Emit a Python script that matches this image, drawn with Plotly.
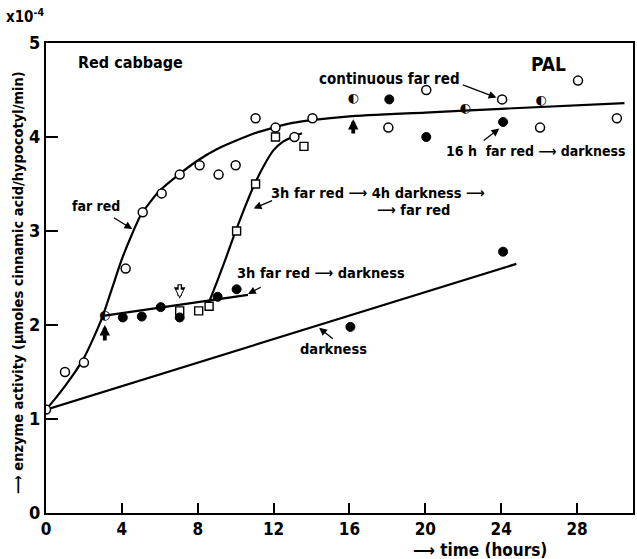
import plotly.graph_objects as go

# ---- data (time in hours, enzyme activity in units of 1e-4) ----
open_t = [0, 1, 2, 4.2, 5.1, 6.1, 7.05, 8.1, 9.1, 10, 11.05, 12.1, 13.1, 14.05, 18.05, 20.05, 24.05, 26.05, 28.05, 30.1]
open_v = [1.1, 1.5, 1.6, 2.6, 3.2, 3.4, 3.6, 3.7, 3.6, 3.7, 4.2, 4.1, 4.0, 4.2, 4.1, 4.5, 4.4, 4.1, 4.6, 4.2]

filled_t = [4.05, 5.05, 6.05, 7.05, 9.05, 10.05, 16.05, 24.1, 18.1, 20.05, 24.1]
filled_v = [2.08, 2.09, 2.19, 2.08, 2.3, 2.38, 1.98, 2.78, 4.4, 4.0, 4.16]

half_t = [3.1, 16.2, 22.1, 26.1]
half_v = [2.1, 4.41, 4.3, 4.39]

square_t = [7.05, 8.05, 8.6, 10.05, 11.05, 12.1, 13.6]
square_v = [2.15, 2.15, 2.2, 3.0, 3.5, 4.0, 3.9]

# curves
farred_t = [0, 0.5, 1, 1.5, 2, 2.5, 3, 3.5, 4, 4.5, 5, 5.5, 6, 7, 8, 9, 10, 11, 12, 13, 14, 16, 20, 24, 30.5]
farred_v = [1.1, 1.22, 1.35, 1.49, 1.65, 1.86, 2.1, 2.4, 2.7, 2.95, 3.17, 3.31, 3.43, 3.6, 3.75, 3.87, 3.96, 4.04, 4.1, 4.15, 4.18, 4.22, 4.26, 4.3, 4.36]

dark3h_t = [3.1, 10.65]
dark3h_v = [2.1, 2.32]

fr4h_t = [8.55, 9, 9.5, 10, 10.5, 11, 11.5, 12, 12.5, 13, 13.5]
fr4h_v = [2.22, 2.45, 2.72, 3.0, 3.26, 3.5, 3.7, 3.86, 3.95, 4.0, 4.04]

dark_t = [0, 24.8]
dark_v = [1.1, 2.65]

x_ticks = [0, 4, 8, 12, 16, 20, 24, 28]
y_ticks = [0, 1, 2, 3, 4, 5]

FONT = "DejaVu Sans Condensed"
LW = 2.2

fig = go.Figure()
for tt, vv in [(farred_t, farred_v), (dark3h_t, dark3h_v), (fr4h_t, fr4h_v), (dark_t, dark_v)]:
    fig.add_trace(go.Scatter(x=tt, y=vv, mode="lines", line=dict(color="black", width=LW, shape="spline", smoothing=0.6),
                             hoverinfo="skip", showlegend=False))

fig.add_trace(go.Scatter(x=square_t, y=square_v, mode="markers",
                         marker=dict(symbol="square", size=8, color="white", line=dict(color="black", width=1.4)),
                         showlegend=False))
fig.add_trace(go.Scatter(x=open_t, y=open_v, mode="markers",
                         marker=dict(symbol="circle", size=9, color="white", line=dict(color="black", width=1.5)),
                         showlegend=False))
fig.add_trace(go.Scatter(x=filled_t, y=filled_v, mode="markers",
                         marker=dict(symbol="circle", size=9, color="black", line=dict(color="black", width=1)),
                         showlegend=False))
fig.add_trace(go.Scatter(x=half_t, y=half_v, mode="text", text=["◐"] * len(half_t),
                         textposition="middle center", textfont=dict(family="DejaVu Sans", size=13, color="black"),
                         showlegend=False))

ann = []
def label(t, v, s, size=13.5, xanchor="center"):
    ann.append(dict(x=t, y=v, xref="x", yref="y", text=s, showarrow=False, xanchor=xanchor,
                    font=dict(family=FONT, size=size, color="black", weight="bold")))

def pointer(t0, v0, t1, v1, width=1.3, head=2, size=1.2, color="black"):
    ann.append(dict(x=t1, y=v1, ax=t0, ay=v0, xref="x", yref="y", axref="x", ayref="y", text="",
                    showarrow=True, arrowhead=head, arrowsize=size, arrowwidth=width, arrowcolor=color,
                    standoff=0, startstandoff=0))

label(1.6, 4.79, "Red cabbage", size=16, xanchor="left")
label(26.5, 4.78, "PAL", size=19)
label(18.1, 4.62, "continuous far red", size=15)
pointer(21.9, 4.56, 23.75, 4.42)
label(25.8, 3.85, "16 h  far red ⟶ darkness", size=14)
pointer(23.0, 3.95, 23.9, 4.09)
label(2.65, 3.27, "far red", size=14)
pointer(3.5, 3.15, 4.55, 3.02)
label(17.5, 3.40, "3h far red ⟶ 4h darkness ⟶", size=14.5)
label(19.4, 3.22, "⟶ far red", size=14.5)
pointer(12.0, 3.33, 10.95, 3.24)
label(14.5, 2.55, "3h far red ⟶ darkness", size=14.5)
pointer(11.4, 2.41, 10.65, 2.33)
label(15.15, 1.74, "darkness", size=14.5)
pointer(15.2, 1.84, 14.4, 1.97)

# induction arrows (filled) and far-red-off arrow (open: black arrow with white inner arrow)
pointer(3.1, 1.82, 3.1, 2.0, width=3.8, head=2, size=0.55)
pointer(16.2, 4.02, 16.2, 4.19, width=3.8, head=2, size=0.55)
pointer(7.05, 2.45, 7.05, 2.28, width=4.6, head=2, size=0.5)
pointer(7.05, 2.44, 7.05, 2.30, width=2.0, head=2, size=0.7, color="white")

# axis titles and multiplier
ann.append(dict(x=-0.049, y=0.49, xref="paper", yref="paper", xanchor="center", yanchor="middle",
                text="⟶ enzyme activity (μmoles cinnamic acid/hypocotyl/min)",
                textangle=-90, showarrow=False, font=dict(family=FONT, size=14.5, color="black", weight="bold")))
ann.append(dict(x=0.74, y=-0.079, xref="paper", yref="paper", xanchor="center", yanchor="middle",
                text="⟶ time (hours)", showarrow=False,
                font=dict(family=FONT, size=17, color="black", weight="bold")))
ann.append(dict(x=-0.072, y=1.057, xref="paper", yref="paper", text="x10<sup>-4</sup>", showarrow=False,
                xanchor="left", yanchor="middle",
                font=dict(family=FONT, size=15, color="black", weight="bold")))

fig.update_layout(
    width=637, height=559,
    margin=dict(l=46, r=2, t=43, b=46),
    plot_bgcolor="white", paper_bgcolor="white",
    annotations=ann,
    xaxis=dict(range=[0, 30.95], tickvals=x_ticks, ticks="inside", ticklen=10, tickwidth=1.5, tickcolor="black",
               showline=True, linecolor="black", linewidth=2, mirror=True, showgrid=False, zeroline=False,
               tickfont=dict(family=FONT, size=17, color="black", weight="bold")),
    yaxis=dict(range=[0, 5], tickvals=y_ticks, ticks="inside", ticklen=12, tickwidth=1.5, tickcolor="black",
               showline=True, linecolor="black", linewidth=2, mirror=True, showgrid=False, zeroline=False,
               tickfont=dict(family=FONT, size=18, color="black", weight="bold")),
)

fig.write_html("out.html")
